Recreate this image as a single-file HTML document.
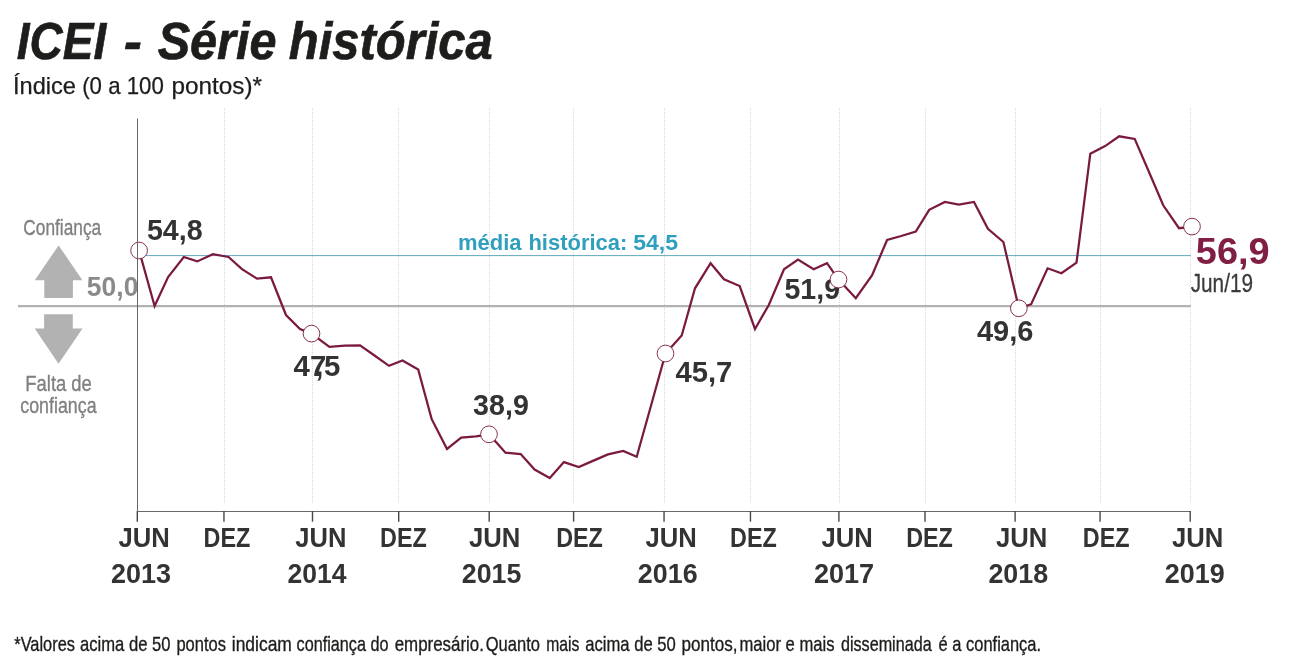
<!DOCTYPE html>
<html lang="pt-BR">
<head>
<meta charset="utf-8">
<title>ICEI - Série histórica</title>
<style>
html,body{margin:0;padding:0;background:#fff;}
body{width:1292px;height:670px;overflow:hidden;}
svg{display:block;will-change:transform;}
text{font-family:"Liberation Sans",sans-serif;}
.b{font-weight:bold;}
.i{font-style:italic;}
</style>
</head>
<body>
<svg width="1292" height="670" viewBox="0 0 1292 670">
<rect width="1292" height="670" fill="#ffffff"/>
<line x1="224.5" y1="108" x2="224.5" y2="503" stroke="#d8d8d8" stroke-width="1" stroke-dasharray="1 1"/>
<line x1="312.5" y1="108" x2="312.5" y2="503" stroke="#d8d8d8" stroke-width="1" stroke-dasharray="1 1"/>
<line x1="398.5" y1="108" x2="398.5" y2="503" stroke="#d8d8d8" stroke-width="1" stroke-dasharray="1 1"/>
<line x1="489.5" y1="108" x2="489.5" y2="503" stroke="#d8d8d8" stroke-width="1" stroke-dasharray="1 1"/>
<line x1="573.5" y1="108" x2="573.5" y2="503" stroke="#d8d8d8" stroke-width="1" stroke-dasharray="1 1"/>
<line x1="664.5" y1="108" x2="664.5" y2="503" stroke="#d8d8d8" stroke-width="1" stroke-dasharray="1 1"/>
<line x1="750.5" y1="108" x2="750.5" y2="503" stroke="#d8d8d8" stroke-width="1" stroke-dasharray="1 1"/>
<line x1="839.5" y1="108" x2="839.5" y2="503" stroke="#d8d8d8" stroke-width="1" stroke-dasharray="1 1"/>
<line x1="925.5" y1="108" x2="925.5" y2="503" stroke="#d8d8d8" stroke-width="1" stroke-dasharray="1 1"/>
<line x1="1015.5" y1="108" x2="1015.5" y2="503" stroke="#d8d8d8" stroke-width="1" stroke-dasharray="1 1"/>
<line x1="1100.5" y1="108" x2="1100.5" y2="503" stroke="#d8d8d8" stroke-width="1" stroke-dasharray="1 1"/>
<line x1="1190.5" y1="108" x2="1190.5" y2="503" stroke="#d8d8d8" stroke-width="1" stroke-dasharray="1 1"/>
<line x1="137" y1="511.5" x2="1190.9" y2="511.5" stroke="#6a6a6a" stroke-width="1"/>
<line x1="137.30" y1="511" x2="137.30" y2="521.7" stroke="#484848" stroke-width="1.4"/>
<line x1="223.95" y1="511" x2="223.95" y2="521.7" stroke="#484848" stroke-width="1.4"/>
<line x1="312.50" y1="511" x2="312.50" y2="521.7" stroke="#484848" stroke-width="1.4"/>
<line x1="398.70" y1="511" x2="398.70" y2="521.7" stroke="#484848" stroke-width="1.4"/>
<line x1="489.20" y1="511" x2="489.20" y2="521.7" stroke="#484848" stroke-width="1.4"/>
<line x1="573.60" y1="511" x2="573.60" y2="521.7" stroke="#484848" stroke-width="1.4"/>
<line x1="664.05" y1="511" x2="664.05" y2="521.7" stroke="#484848" stroke-width="1.4"/>
<line x1="750.45" y1="511" x2="750.45" y2="521.7" stroke="#484848" stroke-width="1.4"/>
<line x1="838.90" y1="511" x2="838.90" y2="521.7" stroke="#484848" stroke-width="1.4"/>
<line x1="925.00" y1="511" x2="925.00" y2="521.7" stroke="#484848" stroke-width="1.4"/>
<line x1="1015.10" y1="511" x2="1015.10" y2="521.7" stroke="#484848" stroke-width="1.4"/>
<line x1="1100.05" y1="511" x2="1100.05" y2="521.7" stroke="#484848" stroke-width="1.4"/>
<line x1="1190.20" y1="511" x2="1190.20" y2="521.7" stroke="#484848" stroke-width="1.4"/>
<line x1="18" y1="306.1" x2="1190.8" y2="306.1" stroke="#b2b2b2" stroke-width="2.3"/>
<line x1="146" y1="255.6" x2="1190.8" y2="255.6" stroke="#62a9c1" stroke-width="1"/>
<polygon points="58.6,245.4 82.45,280.15 72.9,280.15 72.9,298.05 44.3,298.05 44.3,280.15 34.8,280.15" fill="#b2b2b2"/>
<polygon points="44.1,314.3 72.8,314.3 72.8,328.4 82.5,328.4 58.5,363.8 34.7,328.4 44.1,328.4" fill="#b2b2b2"/>
<text id="title" y="59" class="b i" stroke="#1d1d1b" stroke-width="0.7" font-size="52.6" fill="#1d1d1b"><tspan id="title_0" x="16.85" textLength="89.35" lengthAdjust="spacingAndGlyphs">ICEI</tspan> <tspan id="title_1" x="123.65" textLength="18.15" lengthAdjust="spacingAndGlyphs">-</tspan> <tspan id="title_2" x="157.65" textLength="118.75" lengthAdjust="spacingAndGlyphs">Série</tspan> <tspan id="title_3" x="288.85" textLength="203.95" lengthAdjust="spacingAndGlyphs">histórica</tspan></text>
<text id="sub" y="94" stroke="#1d1d1b" stroke-width="0.25" font-size="23.4" fill="#1d1d1b"><tspan id="sub_0" x="12.95" textLength="63.05" lengthAdjust="spacingAndGlyphs">Índice</tspan> <tspan id="sub_1" x="82.20" textLength="81.65" lengthAdjust="spacingAndGlyphs">(0 a 100</tspan> <tspan id="sub_2" x="171.40" textLength="90.55" lengthAdjust="spacingAndGlyphs">pontos)*</tspan></text>
<text id="jun0_0" x="118.45" y="547" class="b" font-size="27.0" fill="#333333" textLength="51.35" lengthAdjust="spacingAndGlyphs">JUN</text>
<text id="yr0_0" x="111.05" y="583" class="b" font-size="27.0" fill="#333333" textLength="60.00" lengthAdjust="spacingAndGlyphs">2013</text>
<text id="dez0_0" x="203.60" y="547" class="b" font-size="27.0" fill="#333333" textLength="46.75" lengthAdjust="spacingAndGlyphs">DEZ</text>
<text id="jun1_0" x="295.30" y="547" class="b" font-size="27.0" fill="#333333" textLength="51.10" lengthAdjust="spacingAndGlyphs">JUN</text>
<text id="yr1_0" x="287.55" y="583" class="b" font-size="27.0" fill="#333333" textLength="59.00" lengthAdjust="spacingAndGlyphs">2014</text>
<text id="dez1_0" x="380.00" y="547" class="b" font-size="27.0" fill="#333333" textLength="46.75" lengthAdjust="spacingAndGlyphs">DEZ</text>
<text id="jun2_0" x="468.90" y="547" class="b" font-size="27.0" fill="#333333" textLength="51.35" lengthAdjust="spacingAndGlyphs">JUN</text>
<text id="yr2_0" x="461.80" y="583" class="b" font-size="27.0" fill="#333333" textLength="59.50" lengthAdjust="spacingAndGlyphs">2015</text>
<text id="dez2_0" x="556.15" y="547" class="b" font-size="27.0" fill="#333333" textLength="46.75" lengthAdjust="spacingAndGlyphs">DEZ</text>
<text id="jun3_0" x="645.40" y="547" class="b" font-size="27.0" fill="#333333" textLength="51.35" lengthAdjust="spacingAndGlyphs">JUN</text>
<text id="yr3_0" x="637.85" y="583" class="b" font-size="27.0" fill="#333333" textLength="59.75" lengthAdjust="spacingAndGlyphs">2016</text>
<text id="dez3_0" x="730.10" y="547" class="b" font-size="27.0" fill="#333333" textLength="46.75" lengthAdjust="spacingAndGlyphs">DEZ</text>
<text id="jun4_0" x="821.45" y="547" class="b" font-size="27.0" fill="#333333" textLength="51.35" lengthAdjust="spacingAndGlyphs">JUN</text>
<text id="yr4_0" x="813.90" y="583" class="b" font-size="27.0" fill="#333333" textLength="60.25" lengthAdjust="spacingAndGlyphs">2017</text>
<text id="dez4_0" x="906.15" y="547" class="b" font-size="27.0" fill="#333333" textLength="46.75" lengthAdjust="spacingAndGlyphs">DEZ</text>
<text id="jun5_0" x="995.90" y="547" class="b" font-size="27.0" fill="#333333" textLength="51.35" lengthAdjust="spacingAndGlyphs">JUN</text>
<text id="yr5_0" x="988.40" y="583" class="b" font-size="27.0" fill="#333333" textLength="59.75" lengthAdjust="spacingAndGlyphs">2018</text>
<text id="dez5_0" x="1082.85" y="547" class="b" font-size="27.0" fill="#333333" textLength="46.75" lengthAdjust="spacingAndGlyphs">DEZ</text>
<text id="jun6_0" x="1171.95" y="547" class="b" font-size="27.0" fill="#333333" textLength="51.35" lengthAdjust="spacingAndGlyphs">JUN</text>
<text id="yr6_0" x="1164.70" y="583" class="b" font-size="27.0" fill="#333333" textLength="60.00" lengthAdjust="spacingAndGlyphs">2019</text>
<text id="media" y="250" class="b" font-size="22.3" fill="#2f9fbe"><tspan id="media_0" x="457.95" textLength="63.55" lengthAdjust="spacingAndGlyphs">média</tspan> <tspan id="media_1" x="528.45" textLength="98.90" lengthAdjust="spacingAndGlyphs">histórica:</tspan> <tspan id="media_2" x="633.20" textLength="44.95" lengthAdjust="spacingAndGlyphs">54,5</tspan></text>
<text id="conf_0" x="23.35" y="235" stroke="#808080" stroke-width="0.35" font-size="22.7" fill="#808080" textLength="77.80" lengthAdjust="spacingAndGlyphs">Confiança</text>
<text id="falta_0" x="25.30" y="391" stroke="#808080" stroke-width="0.35" font-size="22.7" fill="#808080" textLength="66.55" lengthAdjust="spacingAndGlyphs">Falta de</text>
<text id="conf2_0" x="20.25" y="413" stroke="#808080" stroke-width="0.35" font-size="22.7" fill="#808080" textLength="76.30" lengthAdjust="spacingAndGlyphs">confiança</text>
<text id="l500_0" x="86.85" y="296" class="b" font-size="26.8" fill="#8a8a8a" textLength="51.50" lengthAdjust="spacingAndGlyphs">50,0</text>
<text id="l548_0" x="146.95" y="240" class="b" font-size="29.4" fill="#333333" textLength="55.75" lengthAdjust="spacingAndGlyphs">54,8</text>
<text id="l389_0" x="473.10" y="415" class="b" font-size="29.4" fill="#333333" textLength="55.70" lengthAdjust="spacingAndGlyphs">38,9</text>
<text id="l457_0" x="675.50" y="382" class="b" font-size="29.4" fill="#333333" textLength="56.85" lengthAdjust="spacingAndGlyphs">45,7</text>
<text id="l519_0" x="784.50" y="299" class="b" font-size="29.4" fill="#333333" textLength="55.55" lengthAdjust="spacingAndGlyphs">51,9</text>
<text id="l496_0" x="976.90" y="341" class="b" font-size="29.4" fill="#333333" textLength="56.50" lengthAdjust="spacingAndGlyphs">49,6</text>
<text id="l569_0" x="1195.80" y="264" class="b" font-size="36" fill="#801e46" textLength="73.80" lengthAdjust="spacingAndGlyphs">56,9</text>
<text id="jun19_0" x="1190.65" y="292" stroke="#3c3c3c" stroke-width="0.3" font-size="26" fill="#3c3c3c" textLength="62.40" lengthAdjust="spacingAndGlyphs">Jun/19</text>
<text id="foot" y="651" stroke="#1d1d1b" stroke-width="0.35" font-size="20.4" fill="#1d1d1b"><tspan id="foot_0" x="14.30" textLength="60.65" lengthAdjust="spacingAndGlyphs">*Valores</tspan> <tspan id="foot_1" x="79.95" textLength="90.60" lengthAdjust="spacingAndGlyphs">acima de 50</tspan> <tspan id="foot_2" x="176.45" textLength="49.55" lengthAdjust="spacingAndGlyphs">pontos</tspan> <tspan id="foot_3" x="231.80" textLength="60.10" lengthAdjust="spacingAndGlyphs">indicam</tspan> <tspan id="foot_4" x="296.55" textLength="91.95" lengthAdjust="spacingAndGlyphs">confiança do</tspan> <tspan id="foot_5" x="394.65" textLength="89.30" lengthAdjust="spacingAndGlyphs">empresário.</tspan> <tspan id="foot_6" x="485.70" textLength="54.25" lengthAdjust="spacingAndGlyphs">Quanto</tspan> <tspan id="foot_7" x="546.30" textLength="33.15" lengthAdjust="spacingAndGlyphs">mais</tspan> <tspan id="foot_8" x="585.15" textLength="90.70" lengthAdjust="spacingAndGlyphs">acima de 50</tspan> <tspan id="foot_9" x="681.50" textLength="55.95" lengthAdjust="spacingAndGlyphs">pontos,</tspan> <tspan id="foot_10" x="739.45" textLength="95.05" lengthAdjust="spacingAndGlyphs">maior e mais</tspan> <tspan id="foot_11" x="840.95" textLength="90.70" lengthAdjust="spacingAndGlyphs">disseminada</tspan> <tspan id="foot_12" x="938.60" textLength="102.45" lengthAdjust="spacingAndGlyphs">é a confiança.</tspan></text>
<text id="l475" x="293.6 309.9 315.3 324.1" y="376" class="b" font-size="29.4" fill="#333333">47,5</text>
<polyline fill="none" stroke="#7a1a40" stroke-width="2.25" stroke-linejoin="miter" points="139.1,250.5 154.6,306.0 168.1,277 183.8,257 197.2,261.4 212.9,254.2 228.5,257 242,269.2 257,278.6 271,277.3 286,315 300,329 311.5,333.6 329.4,346.8 344.8,345.7 360,345.4 374.5,355.5 389,365.8 402.5,360.4 418.2,369.4 431.6,418.9 447,448.9 461.2,437.7 476,436.4 489.0,434.3 505.5,452.7 520.7,454.1 534.6,469.5 549.8,478 563.9,462.1 578.8,467.1 593.5,460.6 608,454.4 623.2,451 636.7,456.8 651.2,405 665.5,353.5 681.7,335.5 695,288.3 710.6,263.2 724,279.3 739.7,286 755,329 768.8,305 784,269.2 798,259.6 813.6,269.2 827,263.2 838.5,279.55 855.8,298.2 872.1,275.1 887.1,240 901.2,236 915.8,231.5 929.2,209.8 944.9,201.9 958.8,204.6 974,201.9 987.9,228.8 1003.4,242 1018.85,308.3 1031.2,304.2 1047.6,268.3 1061.4,273.2 1076.5,262.7 1090.3,153.7 1105.1,146.1 1119.2,136.3 1134.7,138.9 1149,172 1163.2,205.3 1179,228.2 1192,226.6"/>
<circle cx="139.1" cy="250.5" r="8.35" fill="#fff" stroke="#7a1a40" stroke-width="0.9"/>
<circle cx="311.5" cy="333.6" r="8.35" fill="#fff" stroke="#7a1a40" stroke-width="0.9"/>
<circle cx="489.0" cy="434.3" r="8.35" fill="#fff" stroke="#7a1a40" stroke-width="0.9"/>
<circle cx="665.5" cy="353.5" r="8.35" fill="#fff" stroke="#7a1a40" stroke-width="0.9"/>
<circle cx="838.5" cy="279.55" r="8.35" fill="#fff" stroke="#7a1a40" stroke-width="0.9"/>
<circle cx="1018.85" cy="308.3" r="8.35" fill="#fff" stroke="#7a1a40" stroke-width="0.9"/>
<circle cx="1192" cy="226.6" r="8.35" fill="#fff" stroke="#7a1a40" stroke-width="0.9"/>
<line x1="137.5" y1="118.5" x2="137.5" y2="512" stroke="#666666" stroke-width="1"/>
</svg>
</body>
</html>
